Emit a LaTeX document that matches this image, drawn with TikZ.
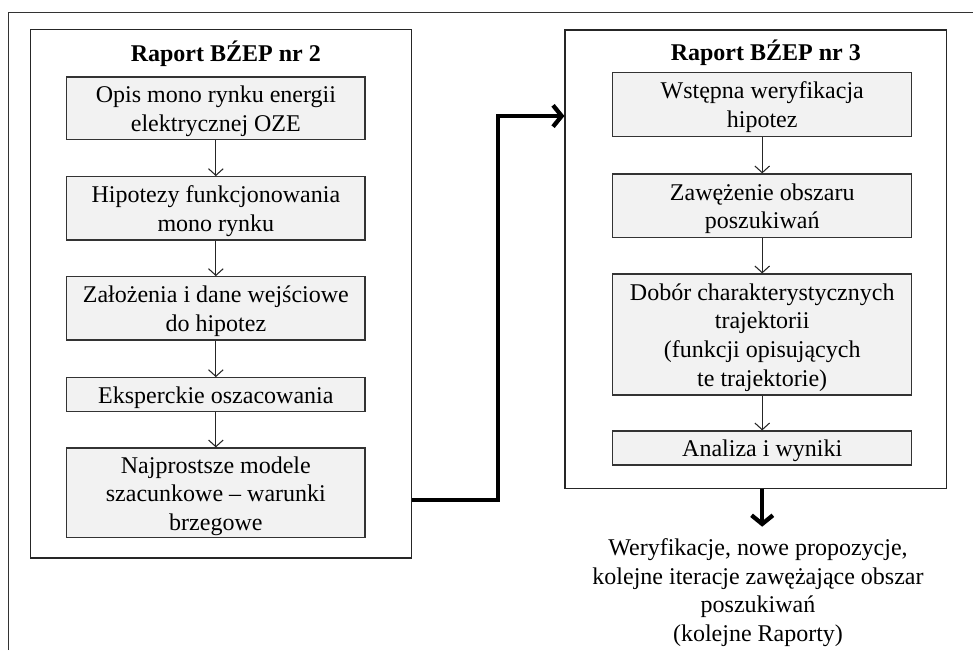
\documentclass[tikz,border=0pt]{standalone}
\usepackage{fontspec}
\setmainfont{Liberation Serif}
\usetikzlibrary{arrows.meta}
\newcommand\bxs{\rule{0pt}{16.9pt}}
\begin{document}
\begin{tikzpicture}[x=0.75pt,y=-0.75pt,
  box/.style={draw=black!80, line width=0.9pt, fill=black!5, minimum width=223.8pt,
    align=center, inner sep=0pt, font=\fontsize{18}{21.4}\selectfont},
  panel/.style={draw=black!85, line width=0.8pt, inner sep=0pt},
  ttl/.style={font=\fontsize{18}{21.4}\selectfont\bfseries, anchor=base, inner sep=0pt},
  flow/.style={draw=black!85, line width=0.8pt, -{Straight Barb[length=5pt,width=11pt]}},
  bigflow/.style={draw=black, line width=3.2pt, -{Straight Barb[length=6.5pt,width=16pt]}},
  note/.style={font=\fontsize{18}{21.4}\selectfont, align=center, inner xsep=0pt, inner ysep=8.8pt}]

\useasboundingbox (0,0) rectangle (973,650);
\draw[line width=0.8pt, black!80] (8.3,650) -- (8.3,12.7) -- (973,12.7);

% panels
\node[panel, minimum width=285.75pt, minimum height=396.5pt] (lp) at (221.2,293.65) {};
\node[panel, minimum width=286.3pt, minimum height=343.7pt] (rp) at (755.85,259.15) {};

% titles
\node[ttl] (lt) at (225.8,61.5) {Raport BŹEP nr 2};
\node[ttl] (rt) at (765.8,60.3) {Raport BŹEP nr 3};

% left column
\node[box, minimum height=47pt]   (l1) at (215.85,108.3)  {\bxs Opis mono rynku energii\\elektrycznej OZE};
\node[box, minimum height=47.5pt] (l2) at (215.85,208.35) {\bxs Hipotezy funkcjonowania\\mono rynku};
\node[box, minimum height=47.5pt] (l3) at (215.85,308.35) {\bxs Założenia i dane wejściowe\\do hipotez};
\node[box, minimum height=25.5pt] (l4) at (215.85,394.7)  {\bxs Eksperckie oszacowania};
\node[box, minimum height=67.3pt] (l5) at (215.85,492.85) {\bxs Najprostsze modele\\szacunkowe – warunki\\brzegowe};

% right column
\node[box, minimum width=224pt, minimum height=48.3pt]  (r1) at (762.2,104.5)  {\bxs Wstępna weryfikacja\\hipotez};
\node[box, minimum width=224pt, minimum height=47.5pt]  (r2) at (762.2,205.65) {\bxs Zawężenie obszaru\\poszukiwań};
\node[box, minimum width=224pt, minimum height=90.75pt] (r3) at (762.2,334.5)  {\bxs Dobór charakterystycznych\\trajektorii\\(funkcji opisujących\\te trajektorie)};
\node[box, minimum width=224pt, minimum height=25.5pt]  (r4) at (762.2,448)    {\bxs Analiza i wyniki};

% bottom note
\node[note, anchor=north] (txt) at (758,526.7) {Weryfikacje, nowe propozycje,\\kolejne iteracje zawężające obszar\\poszukiwań\\(kolejne Raporty)};

% thin arrows
\draw[flow] (l1) -- (l2);
\draw[flow] (l2) -- (l3);
\draw[flow] (l3) -- (l4);
\draw[flow] (l4) -- (l5);
\draw[flow] (r1) -- (r2);
\draw[flow] (r2) -- (r3);
\draw[flow] (r3) -- (r4);

% thick connectors
\coordinate (b1) at (497.7,500);
\coordinate (b2) at (497.7,116);
\draw[bigflow] (lp.east |- b1) -- (b1) -- (b2) -- (rp.west |- b2);
\draw[bigflow] (r4.south |- rp.south) -- (r4.south |- txt.north);
\end{tikzpicture}
\end{document}
